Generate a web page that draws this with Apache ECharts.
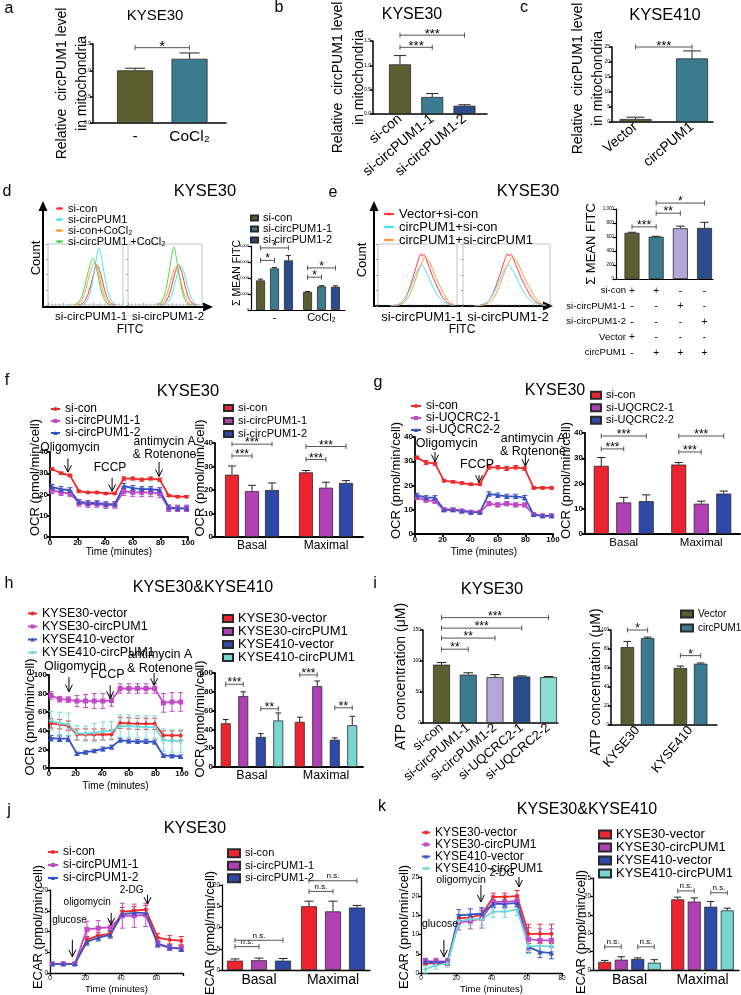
<!DOCTYPE html>
<html><head><meta charset="utf-8">
<script src="https://cdn.jsdelivr.net/npm/echarts@6/dist/echarts.min.js"></script>
<style>html,body{margin:0;padding:0;background:#fff}#c{width:741px;height:995px}</style>
</head><body><div id="c"></div>
<script>
// ================= DATA =================
// a
const aCats = ['-', 'CoCl₂'];
const aVals = [1.00, 1.22];
const aErrs = [0.04, 0.11];
const aSig = [[0,0,1,0,1.43,'*']];
// b
const bCats = ['si-con', 'si-circPUM1-1', 'si-circPUM1-2'];
const bVals = [1.02, 0.35, 0.17];
const bErrs = [0.18, 0.07, 0.02];
const bSig = [[0,0,1,0,1.37,'***'], [0,0,2,0,1.62,'***']];
// c
const cCats = ['Vector', 'circPUM1'];
const cVals = [1.0, 21.2];
const cErrs = [0.6, 2.5];
const cSig = [[0,0,1,0,25,'***']];
// d histograms  ([position, count])
const dHistNames = ['si-con', 'si-circPUM1', 'si-con+CoCl₂', 'si-circPUM1 +CoCl₂'];
const dHist1 = [
  [[40,0],[45,2],[50,8],[55,24],[60,47],[65,66],[70,52],[75,27],[80,9],[85,2],[90,0]],
  [[44,0],[49,3],[54,12],[59,36],[64,72],[68,93],[72,72],[77,38],[82,13],[87,3],[92,0]],
  [[36,0],[41,3],[46,10],[51,28],[56,52],[62,69],[67,55],[72,28],[77,9],[82,2],[87,0]],
  [[34,0],[39,3],[44,11],[49,30],[54,57],[60,77],[65,58],[70,28],[75,9],[80,2],[85,0]]
];
const dHist2 = [
  [[43,0],[48,2],[53,9],[58,26],[63,50],[68,66],[73,52],[78,27],[83,9],[88,2],[93,0]],
  [[46,0],[51,2],[56,8],[61,24],[66,48],[71,64],[76,52],[81,28],[86,10],[91,2],[96,0]],
  [[40,0],[45,3],[50,10],[55,27],[60,50],[64,62],[69,50],[74,26],[79,9],[84,2],[89,0]],
  [[38,0],[43,3],[48,12],[53,36],[58,72],[62,95],[66,72],[71,36],[76,11],[81,2],[86,0]]
];
// d bars
const dCats = ['-', 'CoCl₂'];
const dNames = ['si-con', 'si-circPUM1-1', 'si-circPUM1-2'];
const dVals = [[1850,1130],[2600,1480],[3100,1450]];
const dErrs = [[80,30],[60,40],[300,60]];
const dSig = [[0,0,0,1,3100,'*'],[0,0,0,2,3880,'*'],[1,0,1,1,2050,'*'],[1,0,1,2,2630,'*']];
// e histograms
const eHistNames = ['Vector+si-con', 'circPUM1+si-con', 'circPUM1+si-circPUM1'];
const eHist1 = [
  [[15,0],[25,2],[32,8],[38,22],[44,45],[49,66],[52,78],[54,84],[56,80],[58,84],[61,76],[65,62],[70,45],[76,28],[82,14],[88,5],[95,1]],
  [[15,0],[25,2],[32,8],[38,20],[44,38],[49,55],[53,64],[56,66],[59,60],[63,50],[68,35],[74,20],[80,10],[86,4],[95,1]],
  [[20,0],[28,2],[35,8],[41,20],[47,40],[52,60],[57,74],[60,79],[62,76],[65,72],[69,60],[74,44],[80,28],[86,14],[92,5],[98,1]]
];
const eHist2 = [
  [[12,0],[22,2],[29,8],[35,22],[41,45],[46,66],[49,78],[51,84],[53,80],[55,84],[58,76],[62,62],[67,45],[73,28],[79,14],[86,5],[94,1]],
  [[12,0],[22,2],[29,8],[35,20],[41,38],[46,55],[50,64],[53,66],[56,60],[60,50],[65,35],[71,20],[77,10],[84,4],[94,1]],
  [[17,0],[25,2],[32,8],[38,20],[44,40],[49,60],[54,74],[57,79],[59,76],[62,72],[66,60],[71,44],[77,28],[83,14],[89,5],[96,1]]
];
// e bars
const eCats = ['1', '2', '3', '4'];
const eVals = [660, 605, 725, 730];
const eErrs = [8, 5, 30, 80];
const eRows = ['si-con', 'si-circPUM1-1', 'si-circPUM1-2', 'Vector', 'circPUM1'];
const eTable = [['+','+','-','-'],['-','-','+','-'],['-','-','-','+'],['+','-','-','-'],['-','+','+','+']];
const eSig = [[0,0,1,0,745,'***'],[1,0,2,0,940,'**'],[1,0,3,0,1085,'*']];
// OCR time course (f, g, h)
const ocrTime = [1.5, 8, 14.5, 21, 27.5, 34, 40.5, 47, 53.5, 60, 66.5, 73, 79.5, 86, 92.5, 99];
const bmCats = ['Basal', 'Maximal'];
// f
const fNames = ['si-con', 'si-circPUM1-1', 'si-circPUM1-2'];
const fLine = [
  [32, 30, 29, 21.5, 21, 21, 20.5, 20.5, 27.5, 27.5, 27, 27.5, 27, 19.5, 19, 19],
  [22, 21, 20.5, 16, 15.5, 15.5, 15, 15, 21.5, 21, 21, 21, 20.5, 13.5, 13.5, 13.5],
  [23.5, 22.5, 22, 16.5, 16, 16, 15.5, 15.5, 24, 23, 22.5, 22.5, 22, 14, 13.5, 13.5]
];
const fLineErr = [
  [0.6,0.6,0.6,0.5,0.5,0.5,0.5,0.5,0.8,0.7,0.7,0.7,0.7,0.5,0.5,0.5],
  [1.5,1.5,1.5,1.5,1.5,1.5,1.5,1.5,2,2,2,2,2,1.5,1.5,1.5],
  [1.2,1.2,1.2,1,1,1,1,1,1.2,1.2,1.2,1.2,1.2,1,1,1]
];
const fAnnot = [[13,37,30.5,14.5,42,'Oligomycin'],[45,27.8,21.5,43.5,32.5,'FCCP'],[79,35.3,28.5,83,41.6,'antimycin A\n& Rotenone']];
const fBar = [[26.5,27.5],[19.5,21],[20,23]];
const fBarErr = [[3.7,0.8],[2.5,2.3],[3,1]];
const fSig = [[0,0,0,1,34.5,'***'],[0,0,0,2,39.5,'***'],[1,0,1,1,33,'***'],[1,0,1,2,38.5,'***']];
// g
const gNames = ['si-con', 'si-UQCRC2-1', 'si-UQCRC2-2'];
const gLine = [
  [31.5, 29.5, 29, 22, 21.5, 21, 20.5, 20.5, 27.5, 27.5, 27, 27.5, 27, 19, 19, 19],
  [15, 14, 13.5, 10, 10, 9.5, 9, 9, 12.5, 12, 12.5, 12, 12, 8, 7.5, 7.5],
  [16, 15, 15, 10, 10, 9.5, 9, 9, 16.5, 16, 15.5, 15.5, 15, 8, 7.5, 7.5]
];
const gLineErr = [
  [0.6,0.8,0.6,0.5,0.5,0.5,0.5,0.5,0.8,0.7,0.8,0.7,0.7,0.5,0.5,0.5],
  [0.8,0.8,0.8,0.6,0.6,0.6,0.6,0.6,0.8,0.8,0.8,0.8,0.8,0.6,0.6,0.6],
  [0.8,0.8,0.8,0.6,0.6,0.6,0.6,0.6,0.9,0.9,0.9,0.9,0.9,0.6,0.6,0.6]
];
const gAnnot = [[14.5,33.8,29.8,23,37.5,'Oligomycin'],[46.4,24.3,21.3,45,28.5,'FCCP'],[80,32.6,28,85.5,36.7,'antimycin A\n& Rotenone']];
const gBar = [[27,27.5],[12.5,12],[13,16]];
const gBarErr = [[3.3,0.8],[2,1],[2.5,1]];
const gSig = [[0,0,0,1,33.7,'***'],[0,0,0,2,38.8,'***'],[1,0,1,1,32.5,'***'],[1,0,1,2,38.8,'***']];
// h
const hNames = ['KYSE30-vector', 'KYSE30-circPUM1', 'KYSE410-vector', 'KYSE410-circPUM1'];
const hLine = [
  [48, 47, 45.5, 36, 36, 36, 36, 36, 48.5, 48, 47.5, 47.5, 47.5, 35, 35, 35],
  [78, 74, 73.5, 72, 72, 72, 72, 72.5, 85.5, 85.5, 85.5, 85.5, 85.5, 70, 71, 71],
  [32, 31.5, 31.5, 15.5, 17, 18.5, 20.5, 22.5, 30, 29, 28.5, 28.5, 28, 13.5, 13, 12.5],
  [51, 48, 47, 37.5, 37, 38, 39.5, 40, 45, 45, 44.5, 44, 44, 30, 29, 29]
];
const hLineErr = [
  [5,5,5,6,6,6,6,5,6,6,6,6,6,5,5,5],
  [4,3,3,6,7,8,8,6,5,5,5,5,5,10,10,10],
  [3,3,3,1.5,1.5,1.5,2,2,2,2,2,2,2,1.5,1.5,1.5],
  [10,12,12,8,8,10,10,10,12,12,12,12,12,12,12,12]
];
const hAnnot = [[15,97.8,82,19.5,108.6,'Oligomycin'],[46,89,75,44,100,'FCCP'],[79,102,89,83.5,114.5,'antimycin A\n& Rotenone']];
const hBar = [[46.5,48],[75.5,86],[32,29],[49.5,44.5]];
const hBarErr = [[4,5],[4.5,5.5],[3.5,2],[8,9.5]];
const hSig = [[0,0,0,1,88,'***'],[0,2,0,3,62,'**'],[1,0,1,1,98,'***'],[1,2,1,3,63,'**']];
// i
const iCats = ['si-con', 'si-circPUM1-1', 'si-circPUM1-2', 'si-UQCRC2-1', 'si-UQCRC2-2'];
const iVals = [94, 78, 74, 75, 74];
const iErrs = [3.5, 3, 4, 1, 1];
const iSig = [[0,0,1,0,119,'**'],[0,0,2,0,137,'**'],[0,0,3,0,153,'***'],[0,0,4,0,170,'***']];
const i2Cats = ['KYSE30', 'KYSE410'];
const i2Names = ['Vector', 'circPUM1'];
const i2Vals = [[82,60],[91.5,64.5]];
const i2Errs = [[6,2],[1,0.8]];
const i2Sig = [[0,0,0,1,100,'*'],[1,0,1,1,73,'*']];
// ECAR time course (j, k)
const jTime = [1.3, 7.5, 14, 20.8, 27.2, 34, 40.8, 47.5, 54, 60.8, 67.5, 74];
const jNames = ['si-con', 'si-circPUM1-1', 'si-circPUM1-2'];
const jLine = [
  [2.2,2.2,2.2, 8,9,9.5, 14.8,15,15.3, 8.5,8,7.8],
  [2.2,2.2,2.2, 10.5,10.8,11, 13.8,13.8,14, 7,6,6],
  [2.2,2.2,2.2, 7.5,8.5,9.2, 14.2,14.5,14.5, 7,6.2,5.8]
];
const jLineErr = [
  [0.4,0.4,0.4, 0.8,0.8,0.8, 1,1,1, 1,1,1],
  [0.3,0.3,0.3, 2,1.8,1.5, 3,2.8,2.8, 0.8,0.6,0.6],
  [0.3,0.3,0.3, 0.8,0.8,0.8, 0.8,0.8,0.8, 0.6,0.6,0.6]
];
const jAnnot = [[12.6,8,3.9,11,12.8,'glucose'],[34.5,14.5,11.6,21,17.1,'oligomycin'],[55,18.8,16.6,46,20,'2-DG']];
const jBar = [[2.2,15],[2.3,13.8],[2.2,14.7]];
const jBarErr = [[0.4,1.2],[0.5,2.4],[0.5,0.5]];
const jSig = [[0,0,0,1,5.5,'n.s.'],[0,0,0,2,7,'n.s.'],[1,0,1,1,18.5,'n.s.'],[1,0,1,2,21,'n.s.']];
const kTime = [2.5, 8.5, 15, 21.5, 28, 34.5, 41, 47.5, 54.5, 61, 67.5, 74];
const kNames = ['KYSE30-vector', 'KYSE30-circPUM1', 'KYSE410-vector', 'KYSE410-circPUM1'];
const kLine = [
  [2.5,2.5,2.5, 14.2,14.5,15.2, 19.8,19.8,20, 10.2,10.2,10.2],
  [3,3,3, 13.2,13.5,14.2, 18.5,18.5,18.8, 8.8,8.5,8.5],
  [3,2.8,2.8, 15,15.2,15.5, 18,18,18.2, 6.8,5.5,5.2],
  [1,2,2.5, 13.5,14,14, 16,16,16.5, 7,7,7]
];
const kLineErr = [
  [0.5,0.5,0.5, 1,1,1, 1,1,1.5, 2.5,2.5,2.5],
  [0.8,0.8,0.8, 2,2,2.5, 1.5,1.5,1.5, 3,3,3],
  [0.6,0.6,0.6, 1.5,1.5,1.5, 1,1,1, 1.5,1.5,1.5],
  [1,1,1, 1.5,1.5,1.5, 1.5,1.5,1.5, 2,2,2]
];
const kAnnot = [[13,8.6,4.2,10.8,12.8,'glucose'],[34,22.9,18.5,22.7,24.2,'oligomycin'],[55.6,25,22.4,46,26,'2-DG']];
const kBar = [[2.2,19.2],[2.8,18.6],[3,17.2],[2,16.2]];
const kBarErr = [[0.4,0.6],[0.8,1],[0.3,1.4],[0.8,0.6]];
const kSig = [[0,0,0,1,6.3,'n.s.'],[0,2,0,3,6.3,'n.s.'],[1,0,1,1,21.5,'n.s.'],[1,2,1,3,21,'n.s.']];

// ================= STYLE / LAYOUT =================
const FONT = '"Liberation Sans", Arial, Helvetica, sans-serif';
const OLIVE = '#5b5e30', TEAL = '#3a7b90', NAVY = '#2b4b8d', LAV = '#b3a7d8', LCYAN = '#8fd9d4';
const RED_L = '#f02a2a', PINK_L = '#c24ac6', BLUE_L = '#3653c4', CYAN_L = '#72d8d8';
const RED_B = '#ec2430', MAG_B = '#b041b4', BLUE_B = '#2e49a8', CYAN_B = '#78d6d2';
const H_RED = '#ff3b3b', H_CYAN = '#4fe3f2', H_ORANGE = '#ff9b3d', H_GREEN = '#52d452';
const G = {
  a:[93,44,133,79], b:[373,41,114,73], c:[612,47,101,75],
  dh1:[48,244,75,61], dh2:[128,244,74,61], db:[251,246,94,64],
  eh1:[378,244,79,62], eh2:[463,244,87,62], eb:[616,209,97,70],
  fl:[50,452,138,85], fb:[215,443,148,94],
  gl:[415,437,138,97], gb:[585,433,155,101],
  hl:[49,675,133,93], hb:[215,673,148,94],
  il:[423,630,135,93], ir:[611,630,106,95],
  jl:[50,890,133,83], jb:[222,885,148,85],
  kl:[421,877,141,96], kb:[593,878,146,92]
};
// x extents (in bar-index units) for single-series bar panels
const XR = {a:[-0.771,1.669], b:[-0.837,2.698], c:[-0.418,1.372], eb:[-0.662,3.351], il:[-0.692,4.355]};

const option = {animation:false, backgroundColor:'#fff', textStyle:{fontFamily:FONT, color:'#000'},
  grid:[], xAxis:[], yAxis:[], series:[], legend:[], graphic:[]};

function addGrid(r, box){
  option.grid.push({left:r[0], top:r[1], width:r[2], height:r[3], containLabel:false, outerBoundsMode:'none',
    show:!!box, borderColor:'#c4c4c4', borderWidth:1, backgroundColor:'rgba(0,0,0,0)'});
  return option.grid.length - 1;
}
function catX(gi, cats, o, xr){
  const lab = {interval:0, fontSize:o.fs, rotate:o.rot||0, margin:(o.margin==null?4:o.margin), color:'#000', fontFamily:FONT, fontWeight:o.fw||'normal', hideOverlap:false};
  if (o.lh) lab.lineHeight = o.lh;
  if (xr) {
    lab.customValues = cats.map(function(c, i){ return i; });
    lab.formatter = o.fmt ? function(v){ return o.fmt(v, v); } : function(v){ return cats[v]; };
    option.xAxis.push({gridIndex:gi, type:'value', min:xr[0], max:xr[1],
      axisLine:{show:true, onZero:false, lineStyle:{color:'#000', width:o.lw||1.2}},
      axisTick:{show:false}, splitLine:{show:false}, axisLabel:lab});
    return;
  }
  if (o.fmt) lab.formatter = o.fmt;
  option.xAxis.push({gridIndex:gi, type:'category', data:cats,
    axisLine:{show:true, onZero:false, lineStyle:{color:'#000', width:o.lw||1.2}},
    axisTick:{show:false}, splitLine:{show:false}, axisLabel:lab});
}
function valAx(list, gi, min, max, interval, o){
  const lab = {show:o.labels!==false, fontSize:o.fs||6, fontWeight:o.fw||'normal', color:'#000', fontFamily:FONT, margin:(o.margin==null?2:o.margin), hideOverlap:false};
  if (o.fmt) lab.formatter = o.fmt;
  const nts = {fontSize:o.nfs||12, color:'#000', fontFamily:FONT, fontWeight:o.nfw||'normal', padding:o.npad||0};
  if (o.nlh) nts.lineHeight = o.nlh;
  const ax = {gridIndex:gi, type:'value', min:min, max:max, interval:interval,
    axisLine:{show:o.line!==false, onZero:false, lineStyle:{color:o.lc||'#000', width:o.lw||1.2}},
    axisTick:{show:o.ticks!==false, inside:!!o.inside, length:o.tl||3, lineStyle:{color:o.lc||'#000', width:o.lw||1.2}},
    minorTick:{show:!!o.minor, splitNumber:o.minor||5, length:1.5, lineStyle:{color:o.lc||'#000', width:0.6}},
    splitLine:{show:false}, axisLabel:lab,
    name:o.name||'', nameLocation:'middle', nameGap:(o.gap==null?10:o.gap), nameMoveOverlap:false, nameTextStyle:nts};
  if (list === option.yAxis) ax.nameRotate = 90;
  list.push(ax);
}
function addLegend(names, L){
  const lg = {show:true, orient:'vertical', left:L.x, top:L.y, padding:0, itemGap:0,
    itemWidth:L.iw, itemHeight:L.ih, selectedMode:false, data:names,
    formatter:function(n){ return n.split('|')[1]; },
    textStyle:{fontSize:L.fs, color:'#000', fontFamily:FONT, lineHeight:L.lh}};
  if (L.icon) lg.icon = L.icon;
  option.legend.push(lg);
}
function barLayout(n, bw, gap){
  const total = n*bw + (n-1)*gap*bw;
  return function(i){ return -total/2 + i*bw*(1+gap) + bw/2; };
}
function barErr(gi, n, bw, gap, si, vals, errs){
  const off = barLayout(n, bw, gap);
  return {type:'custom', xAxisIndex:gi, yAxisIndex:gi, z:5, silent:true, clip:false,
    data: vals.map(function(v,i){ return [i, v, errs[i]]; }),
    renderItem: function(params, api){
      const ci = api.value(0), v = api.value(1), e = api.value(2);
      const p0 = api.coord([ci, v]), p1 = api.coord([ci, v+e]);
      const x = p0[0] + off(si), cw = Math.max(2.5, bw*0.28);
      return {type:'group', children:[
        {type:'line', shape:{x1:x, y1:p0[1], x2:x, y2:p1[1]}, style:{stroke:'#222', lineWidth:1}},
        {type:'line', shape:{x1:x-cw, y1:p1[1], x2:x+cw, y2:p1[1]}, style:{stroke:'#222', lineWidth:1}}]};
    }};
}
function brackets(gi, n, bw, gap, list, fs){
  const off = barLayout(n, bw, gap);
  return {type:'custom', xAxisIndex:gi, yAxisIndex:gi, z:8, silent:true, clip:false,
    data: list.map(function(b){ return [b[0], b[4]]; }),
    renderItem: function(params, api){
      const b = list[params.dataIndex];
      const pa = api.coord([b[0], b[4]]), pb = api.coord([b[2], b[4]]);
      const x1 = pa[0] + off(b[1]), x2 = pb[0] + off(b[3]), y = pa[1], c = 2.5;
      const star = b[5].indexOf('*') >= 0;
      const dy = star ? (0.73*fs - 4) : (0.15*fs - 2);
      return {type:'group', children:[
        {type:'line', shape:{x1:x1, y1:y, x2:x2, y2:y}, style:{stroke:'#555', lineWidth:1}},
        {type:'line', shape:{x1:x1, y1:y-c, x2:x1, y2:y+c}, style:{stroke:'#555', lineWidth:1}},
        {type:'line', shape:{x1:x2, y1:y-c, x2:x2, y2:y+c}, style:{stroke:'#555', lineWidth:1}},
        {type:'text', x:(x1+x2)/2, y:y+dy, style:{text:b[5], fontSize:fs, fontFamily:FONT, fill:'#000', align:'center', verticalAlign:'bottom'}}]};
    }};
}
function barChart(key, cats, ser, cfg){
  const gi = addGrid(G[key]);
  const xr = XR[key];
  catX(gi, cats, cfg.xl, xr);
  valAx(option.yAxis, gi, cfg.ymin, cfg.ymax, cfg.yint, cfg.yl);
  const n = ser.length;
  ser.forEach(function(s, si){
    option.series.push({type:'bar', name:key+'|'+s.name, xAxisIndex:gi, yAxisIndex:gi,
      barWidth:cfg.bw, barGap:(cfg.gap*100)+'%',
      data: s.vals.map(function(v,i){
        const val = xr ? [i, v] : v;
        return s.colors ? {value:val, itemStyle:{color:s.colors[i]}} : val; }),
      itemStyle:{color:s.color || s.colors[0], borderColor:'#2a2a2a', borderWidth:0.8}, z:2, silent:true});
    option.series.push(barErr(gi, n, cfg.bw, cfg.gap, si, s.vals, s.errs));
  });
  if (cfg.sig) option.series.push(brackets(gi, n, cfg.bw, cfg.gap, cfg.sig, cfg.sfs));
  if (cfg.legend) addLegend(ser.map(function(s){ return key+'|'+s.name; }), cfg.legend);
}
function lineErr(gi, times, vals, errs, color){
  return {type:'custom', xAxisIndex:gi, yAxisIndex:gi, z:2, silent:true, clip:false,
    data: times.map(function(t,i){ return [t, vals[i], errs[i]]; }),
    renderItem: function(params, api){
      const t = api.value(0), v = api.value(1), e = api.value(2), cw = 2.5;
      const a = api.coord([t, v-e]), b = api.coord([t, v+e]);
      return {type:'group', children:[
        {type:'line', shape:{x1:a[0], y1:a[1], x2:b[0], y2:b[1]}, style:{stroke:color, lineWidth:1}},
        {type:'line', shape:{x1:a[0]-cw, y1:a[1], x2:a[0]+cw, y2:a[1]}, style:{stroke:color, lineWidth:1}},
        {type:'line', shape:{x1:b[0]-cw, y1:b[1], x2:b[0]+cw, y2:b[1]}, style:{stroke:color, lineWidth:1}}]};
    }};
}
function annotations(gi, list, fs){
  return {type:'custom', xAxisIndex:gi, yAxisIndex:gi, z:9, silent:true, clip:false,
    data: list.map(function(a){ return [a[0], a[2]]; }),
    renderItem: function(params, api){
      const a = list[params.dataIndex];
      const p1 = api.coord([a[0], a[1]]), p2 = api.coord([a[0], a[2]]), pt = api.coord([a[3], a[4]]);
      return {type:'group', children:[
        {type:'line', shape:{x1:p1[0], y1:p1[1], x2:p2[0], y2:p2[1]}, style:{stroke:'#000', lineWidth:1}},
        {type:'polyline', shape:{points:[[p2[0]-3.5, p2[1]-7],[p2[0], p2[1]],[p2[0]+3.5, p2[1]-7]]}, style:{stroke:'#000', lineWidth:1, fill:'none'}},
        {type:'text', x:pt[0], y:pt[1], style:{text:a[5], fontSize:fs, fontFamily:FONT, fill:'#000', align:'center', verticalAlign:'middle', lineHeight:fs+1}}]};
    }};
}
function lineChart(key, times, ser, cfg){
  const gi = addGrid(G[key]);
  valAx(option.xAxis, gi, 0, cfg.xmax, cfg.xint, cfg.xl);
  valAx(option.yAxis, gi, 0, cfg.ymax, cfg.yint, cfg.yl);
  ser.forEach(function(s){
    option.series.push({type:'line', name:key+'|'+s.name, xAxisIndex:gi, yAxisIndex:gi,
      data: times.map(function(t,i){ return [t, s.vals[i]]; }),
      symbol:s.symbol, symbolSize:s.ss||4, showSymbol:true, color:s.color,
      lineStyle:{color:s.color, width:cfg.lw||1.8}, itemStyle:{color:s.color}, z:3, silent:true});
    option.series.push(lineErr(gi, times, s.vals, s.errs, s.color));
  });
  if (cfg.annot) option.series.push(annotations(gi, cfg.annot, cfg.afs));
  if (cfg.legend) addLegend(ser.map(function(s){ return key+'|'+s.name; }), cfg.legend);
}
function histBox(key, curves, colors, names){
  const gi = addGrid(G[key], true);
  valAx(option.xAxis, gi, 0, 100, 20, {line:false, labels:false, inside:true, tl:2, lc:'#888', lw:0.8, minor:4});
  valAx(option.yAxis, gi, 0, 100, 25, {line:false, labels:false, tl:2, lc:'#888', lw:0.8});
  curves.forEach(function(c, i){
    option.series.push({type:'line', name:key+'|'+names[i], xAxisIndex:gi, yAxisIndex:gi, data:c,
      smooth:0.35, symbol:'none', color:colors[i], lineStyle:{color:colors[i], width:1}, itemStyle:{color:colors[i]}, silent:true, z:3});
  });
}
function T(text, x, y, fs, o){
  o = o || {};
  return {type:'text', x:x, y:y, rotation:o.rot||0, silent:true, z:100,
    style:{text:text, fontSize:fs, fontFamily:FONT, fontWeight:o.fw||'normal', fill:'#000', align:o.align||'center', verticalAlign:'middle'}};
}
function arrowAxes(x0, y0, yTop, xRight){
  return [
    {type:'line', silent:true, shape:{x1:x0, y1:y0, x2:x0, y2:yTop+8}, style:{stroke:'#000', lineWidth:2}},
    {type:'polygon', silent:true, shape:{points:[[x0,yTop],[x0-4.5,yTop+10],[x0+4.5,yTop+10]]}, style:{fill:'#000'}},
    {type:'line', silent:true, shape:{x1:x0-1, y1:y0, x2:xRight-8, y2:y0}, style:{stroke:'#000', lineWidth:2}},
    {type:'polygon', silent:true, shape:{points:[[xRight,y0],[xRight-10,y0-4.5],[xRight-10,y0+4.5]]}, style:{fill:'#000'}}];
}
function yName(text, fs, gap, pad, lh){ return {name:text, nfs:fs, gap:gap, npad:pad||0, nlh:lh}; }
function merge(a, b){ return Object.assign({}, a, b); }

// ================= BUILD =================
const REL = 'Relative  circPUM1 level\nin mitochondria';
// a
barChart('a', aCats, [{name:'a', vals:aVals, errs:aErrs, colors:[OLIVE, TEAL]}],
  {xl:{fs:15.5, margin:6, lw:1.5}, ymin:0, ymax:1.5, yint:0.5,
   yl:merge({fs:5, lw:1.5, fmt:function(v){ return v.toFixed(1); }}, yName(REL, 14, 1, 0, 20)),
   bw:36, gap:0, sig:aSig, sfs:15});
// b
barChart('b', bCats, [{name:'b', vals:bVals, errs:bErrs, colors:[OLIVE, TEAL, NAVY]}],
  {xl:{fs:14, rot:40, margin:3, lw:1.5}, ymin:0, ymax:1.5, yint:0.5,
   yl:merge({fs:5, lw:1.5, fmt:function(v){ return v.toFixed(1); }}, yName(REL, 14, 3, 0, 21)),
   bw:22, gap:0, sig:bSig, sfs:13});
// c
barChart('c', cCats, [{name:'c', vals:cVals, errs:cErrs, colors:[OLIVE, TEAL]}],
  {xl:{fs:14, rot:40, margin:3, lw:1.5}, ymin:0, ymax:25, yint:5,
   yl:merge({fs:5, lw:1.5}, yName(REL, 14, 4, [0,0,0,12], 20)),
   bw:32, gap:0, sig:cSig, sfs:13});
// d histograms
const hColsD = [H_RED, H_CYAN, H_ORANGE, H_GREEN];
histBox('dh1', dHist1, hColsD, dHistNames);
histBox('dh2', dHist2, hColsD, dHistNames);
addLegend(dHistNames.map(function(n){ return 'dh1|'+n; }), {x:55, y:203, iw:7, ih:4, fs:11, lh:9.6});
// d bars
barChart('db', dCats, dNames.map(function(n,i){ return {name:n, vals:dVals[i], errs:dErrs[i], color:[OLIVE,TEAL,NAVY][i]}; }),
  {xl:{fs:11, margin:2, lw:1.2}, ymin:0, ymax:4000, yint:1000,
   yl:merge({fs:4, lw:1.2}, yName('Σ MEAN FITC', 10.5, 8, [0,0,0,10])),
   bw:9, gap:0.55, sig:dSig, sfs:12, legend:{x:250, y:212.5, iw:7, ih:5, fs:11, lh:9.3, icon:'rect'}});
// e histograms
const hColsE = [H_RED, H_CYAN, H_ORANGE];
histBox('eh1', eHist1, hColsE, eHistNames);
histBox('eh2', eHist2, hColsE, eHistNames);
addLegend(eHistNames.map(function(n){ return 'eh1|'+n; }), {x:383, y:207.5, iw:10, ih:4, fs:13, lh:11.5});
// e bars
barChart('eb', eCats, [{name:'e', vals:eVals, errs:eErrs, colors:[OLIVE, TEAL, LAV, NAVY]}],
  {xl:{fs:10, margin:4, lh:15.5, lw:1.2, fmt:function(v, i){ return eTable.map(function(r){ return r[i]; }).join('\n'); }},
   ymin:0, ymax:1000, yint:200,
   yl:merge({fs:4.5, lw:1.2}, yName('Σ MEAN FITC', 13, 18)),
   bw:15, gap:0, sig:eSig, sfs:12});
// f
const lineSyms = ['circle', 'rect', 'triangle', 'diamond'];
const lineCols = [RED_L, PINK_L, BLUE_L, CYAN_L];
const barCols = [RED_B, MAG_B, BLUE_B, CYAN_B];
function lineSeries(names, vals, errs){ return names.map(function(n,i){ return {name:n, vals:vals[i], errs:errs[i], color:lineCols[i], symbol:lineSyms[i], ss:i===0?4:5}; }); }
function barSeries(names, vals, errs, cols){ return names.map(function(n,i){ return {name:n, vals:vals[i], errs:errs[i], color:(cols||barCols)[i]}; }); }
const OCR = 'OCR (pmol/min/cell)', ECAR = 'ECAR (pmol/min/cell)', TIME = 'Time (minutes)';
lineChart('fl', ocrTime, lineSeries(fNames, fLine, fLineErr),
  {xmax:100, xint:20, ymax:40, yint:10,
   xl:{fs:8, fw:'bold', lw:1.8, name:TIME, nfs:10, gap:10},
   yl:merge({fs:8, fw:'bold', lw:1.8}, yName(OCR, 13, 8, [0,0,0,34])),
   annot:fAnnot, afs:12, legend:{x:50, y:403, iw:9, ih:5, fs:12, lh:12}});
barChart('fb', bmCats, barSeries(fNames, fBar, fBarErr),
  {xl:{fs:12, margin:3, lw:1.8}, ymin:0, ymax:40, yint:10,
   yl:merge({fs:8, fw:'bold', lw:1.8}, yName(OCR, 13, 8, [0,0,0,24])),
   bw:14, gap:0.43, sig:fSig, sfs:12, legend:{x:223, y:401.5, iw:9, ih:6, fs:11, lh:13, icon:'rect'}});
// g
lineChart('gl', ocrTime, lineSeries(gNames, gLine, gLineErr),
  {xmax:100, xint:20, ymax:40, yint:10,
   xl:{fs:8, fw:'bold', lw:1.8, name:TIME, nfs:10, gap:13},
   yl:merge({fs:8, fw:'bold', lw:1.8}, yName(OCR, 13, 12, [0,0,0,10])),
   annot:gAnnot, afs:12.5, legend:{x:410, y:400, iw:10, ih:5, fs:12, lh:12}});
barChart('gb', bmCats, barSeries(gNames, gBar, gBarErr),
  {xl:{fs:11.5, margin:3, lw:1.8}, ymin:0, ymax:40, yint:10,
   yl:merge({fs:8, fw:'bold', lw:1.8}, yName(OCR, 13, 12, [0,0,0,6])),
   bw:15, gap:0.5, sig:gSig, sfs:12, legend:{x:590, y:389, iw:10, ih:7, fs:11, lh:12.5, icon:'rect'}});
// h
lineChart('hl', ocrTime, lineSeries(hNames, hLine, hLineErr),
  {xmax:100, xint:20, ymax:100, yint:20,
   xl:{fs:8, fw:'bold', lw:1.8, name:TIME, nfs:10, gap:13},
   yl:merge({fs:8, fw:'bold', lw:1.8}, yName(OCR, 13, 12, [0,0,0,9])),
   annot:hAnnot, afs:12.5, legend:{x:27, y:607, iw:9, ih:5, fs:12.5, lh:12}});
barChart('hb', bmCats, barSeries(hNames, hBar, hBarErr),
  {xl:{fs:12.5, margin:2, lw:1.8}, ymin:0, ymax:100, yint:20,
   yl:merge({fs:8, fw:'bold', lw:1.8}, yName(OCR, 13, 8, [0,0,0,2])),
   bw:10, gap:0.75, sig:hSig, sfs:12, legend:{x:222, y:612, iw:10, ih:7, fs:13, lh:12, icon:'rect'}});
// i
barChart('il', iCats, [{name:'i', vals:iVals, errs:iErrs, colors:[OLIVE, TEAL, LAV, NAVY, LCYAN]}],
  {xl:{fs:13, rot:40, margin:3, lw:1.5}, ymin:0, ymax:150, yint:50,
   yl:merge({fs:5, lw:1.5}, yName('ATP concentration (μM)', 14, 15)),
   bw:17, gap:0, sig:iSig, sfs:12});
barChart('ir', i2Cats, barSeries(i2Names, i2Vals, i2Errs, [OLIVE, TEAL]),
  {xl:{fs:13, rot:50, margin:3, lw:1.5}, ymin:0, ymax:100, yint:20,
   yl:merge({fs:4.5, lw:1.5}, yName('ATP concentration (μM)', 14, 8, [0,9,0,0])),
   bw:13.5, gap:0.5, sig:i2Sig, sfs:12, legend:{x:680, y:607, iw:12, ih:7, fs:10, lh:14, icon:'rect'}});
// j
lineChart('jl', jTime, lineSeries(jNames, jLine, jLineErr),
  {xmax:75, xint:20, ymax:20, yint:5,
   xl:{fs:6.5, lw:1.3, name:TIME, nfs:9.5, gap:11, fmt:function(v){ return v % 20 === 0 ? String(v) : ''; }},
   yl:merge({fs:6.5, lw:1.3}, yName(ECAR, 13, 5, [0,0,0,9])),
   annot:jAnnot, afs:10, legend:{x:47, y:845.5, iw:10, ih:5, fs:12, lh:13}});
barChart('jb', bmCats, barSeries(jNames, jBar, jBarErr),
  {xl:{fs:14, margin:3, lw:1.3}, ymin:0, ymax:20, yint:5,
   yl:merge({fs:6.5, lw:1.3}, yName(ECAR, 13, 5, [0,11,0,0])),
   bw:16, gap:0.5, sig:jSig, sfs:8, legend:{x:227, y:847, iw:12, ih:8, fs:11, lh:12.5, icon:'rect'}});
// k
lineChart('kl', kTime, lineSeries(kNames, kLine, kLineErr),
  {xmax:80, xint:20, ymax:25, yint:5,
   xl:{fs:6.5, lw:1.3, name:TIME, nfs:9.5, gap:11},
   yl:merge({fs:6.5, lw:1.3}, yName(ECAR, 13, 10, [0,4,0,0])),
   annot:kAnnot, afs:10.5, legend:{x:421, y:826.5, iw:8, ih:5, fs:12, lh:11}});
barChart('kb', bmCats, barSeries(kNames, kBar, kBarErr),
  {xl:{fs:14, margin:3, lw:1.3}, ymin:0, ymax:25, yint:5,
   yl:merge({fs:6.5, lw:1.3}, yName(ECAR, 13, 5, [0,16,0,0])),
   bw:13, gap:0.27, sig:kSig, sfs:8, legend:{x:598, y:828, iw:12, ih:8, fs:13, lh:12, icon:'rect'}});

// ================= TEXT / DECORATION =================
const gfx = [];
[['a',9,9],['b',279,8],['c',524,8],['d',7,192],['e',333,193],['f',7,381],['g',378,383],['h',9,584],['i',375,584],['j',9,811],['k',382,807]]
  .forEach(function(p){ gfx.push(T(p[0], p[1], p[2], 16)); });
[['KYSE30',155,16,15],['KYSE30',412,15,16],['KYSE410',665,15,16.5],['KYSE30',205,191,16.5],['KYSE30',528,191,16.5],
 ['KYSE30',188,391,16.5],['KYSE30',555,391,16],['KYSE30&KYSE410',203,588,16],['KYSE30',492,589,16.5],['KYSE30',195,828,16.5],['KYSE30&KYSE410',587,810,16]]
  .forEach(function(p){ gfx.push(T(p[0], p[1], p[2], p[3])); });
arrowAxes(43, 307, 201, 213).forEach(function(e){ gfx.push(e); });
arrowAxes(374, 306, 201, 553).forEach(function(e){ gfx.push(e); });
gfx.push(T('Count', 36, 258, 13, {rot:Math.PI/2}));
gfx.push(T('Count', 362, 260, 13, {rot:Math.PI/2}));
gfx.push(T('si-circPUM1-1', 91, 317, 11.5));
gfx.push(T('si-circPUM1-2', 168, 317, 11.5));
gfx.push(T('FITC', 130, 330, 12));
gfx.push(T('si-circPUM1-1', 422, 317, 13));
gfx.push(T('si-circPUM1-2', 508, 317, 13));
gfx.push(T('FITC', 462, 330, 12));
eRows.forEach(function(r, k){ gfx.push(T(r, 626, 290.75 + 15.5*k, 9.5, {align:'right'})); });
option.graphic = gfx;

const chart = echarts.init(document.getElementById('c'), null, {renderer:'canvas', width:741, height:995});
chart.setOption(option);
</script></body></html>
